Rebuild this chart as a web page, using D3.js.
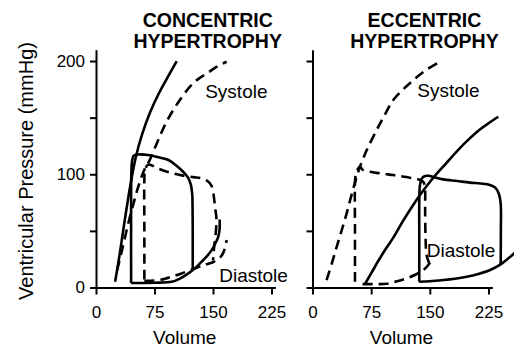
<!DOCTYPE html>
<html>
<head>
<meta charset="utf-8">
<script src="https://cdn.jsdelivr.net/npm/d3@7"></script>
<style>
  body { margin: 0; background: #fff; }
  text { font-family: Arial, "Liberation Sans", sans-serif; fill: #000; }
</style>
</head>
<body>
<div id="chart"></div>
<script>
// values, [volume, pressure]
var concentricEspvr = [[24.5,5],[30.5,30],[37,60],[44,90],[51,115],[59,135],[69.5,155],[81,172],[93,187],[103.5,200]];
var concentricLoop = [[45,4],[45,60],[45.3,100],[46.3,112],[48.5,116.5],[55,117.5],[67,117],[80,115],[93,112.6],[104,107],[112,102],[118,97],[121.5,91],[123.3,83],[123.8,70],[124,50],[124,30],[124,16]];
var concentricEdpvr = [[45,4],[75,4.2],[97,5],[108,8],[118.4,12.5],[127,17],[135.5,22.8],[142,27.5],[148.3,33],[153,39],[156.8,45],[158.5,52],[158.5,60]];
var normalEspvrA = [[27,15],[34,35],[41.4,56.7],[48,74],[54.2,89],[62,104],[67,110],[77.8,127],[88,143],[99,156.7],[110,168],[120.5,177.3],[131,184],[142,189],[155,195],[167.5,199.4]];
var normalLoopA = [[62,7],[62,50],[62,95],[63,104],[67,108.5],[80,105],[95,101.5],[110,99],[125,97.5],[135.5,96.4],[143,94],[148,90],[150.5,83],[152.6,71],[154.5,60],[153.5,48],[151.5,36],[150,24]];
var normalEdpvrA = [[62,6],[80,6.5],[92,8.5],[108,12],[129,17.5],[142,20.5],[150.4,22.5],[156,25],[161,28],[165,34],[167.5,42]];

var eccentricEspvr = [[67,3],[75,12.5],[85,24.5],[95,35.5],[103.3,44],[115,58],[126,70],[137.4,81.7],[147,90.5],[157,99],[170,109],[184.3,120],[197,129],[214,139.5],[226,145.5],[237.5,150.8]];
var eccentricLoop = [[136.5,5.1],[136.5,40],[136.6,80],[137.5,91],[140,96.5],[144,98.5],[148,98.7],[158,97],[167.2,95.5],[185,94],[201.4,92.6],[215,91.8],[227,90.5],[234,88],[238,83.2],[240.5,75],[240.8,50],[240.6,20.5]];
var eccentricEdpvr = [[136.5,5.1],[150,5.5],[167.2,6.6],[182,7.8],[197,9.5],[212,12],[227,15.5],[240.6,20.5],[250,25.5],[257.6,30.2],[264,35.5]];
var normalEspvrB = [[18,6.6],[25,22],[31,36],[37.5,51],[43.7,65.5],[50,82],[56.5,97.8],[60.7,106.7],[66,116],[71.3,124.3],[82,139],[92,152],[103.3,165.6],[116,175],[129,183.2],[145,192],[163,199.4]];
var normalLoopB = [[54.3,5],[54.3,50],[54.5,95],[56,102],[60.7,106.7],[64,104],[73.5,102.3],[90,100.5],[103.3,99.3],[120,97.5],[137.4,95],[142,93],[143.8,88],[144,70],[144.5,45],[146,28],[149,22]];
var normalEdpvrB = [[64,3],[80,3],[94.9,3.3],[108,5.5],[120.4,8.1],[132,11.5],[141.7,15.5],[147,19],[150.2,22]];

var xTicks = [0, 75, 150, 225];
var yTicks = [0, 50, 100, 150, 200];
var yLabels = [0, 100, 200];
var titles = [["CONCENTRIC", "HYPERTROPHY"], ["ECCENTRIC", "HYPERTROPHY"]];
var systoleAt = [[140, 167], [134, 168]];
var diastoleAt = [[158, 5], [146, 27]];

var width = 514, height = 348;

var svg = d3.select("#chart").append("svg")
  .attr("width", width)
  .attr("height", height);

var y = d3.scaleLinear().domain([0, 210]).range([287.5, 49.7]);
var xA = d3.scaleLinear().domain([0, 230]).range([96, 96 + 230 * 0.78]);
var xB = d3.scaleLinear().domain([0, 230]).range([312.5, 312.5 + 230 * 0.7822]);

function drawPanel(x, showLabels, curves, title, sys, dia) {
  var g = svg.append("g");

  var yAxis = d3.axisLeft(y)
    .tickValues(yTicks)
    .tickSize(6)
    .tickSizeOuter(0)
    .tickPadding(5)
    .tickFormat(function(d) { return showLabels && yLabels.indexOf(d) >= 0 ? d : ""; });

  var xAxis = d3.axisBottom(x)
    .tickValues(xTicks)
    .tickSize(7)
    .tickSizeOuter(0)
    .tickPadding(11);

  var ya = g.append("g").attr("transform", "translate(" + x(0) + ",0)").call(yAxis);
  var xa = g.append("g").attr("transform", "translate(0," + y(0) + ")").call(xAxis);

  [ya, xa].forEach(function(a) {
    a.select(".domain").attr("stroke", "#000").attr("stroke-width", 2);
    a.selectAll(".tick line").attr("stroke", "#000").attr("stroke-width", 2);
    a.selectAll(".tick text").attr("fill", "#000")
      .style("font-size", "17px")
      .style("font-family", "Arial, 'Liberation Sans', sans-serif");
  });

  var line = d3.line()
    .x(function(d) { return x(d[0]); })
    .y(function(d) { return y(d[1]); })
    .curve(d3.curveCatmullRom.alpha(0.5));

  curves.forEach(function(c) {
    g.append("path")
      .attr("d", line(c.data))
      .attr("fill", "none")
      .attr("stroke", "#000")
      .attr("stroke-width", 2.6)
      .attr("stroke-linejoin", "round")
      .attr("stroke-dasharray", c.dashed ? "10,6" : null);
  });

  var mid = (x(0) + x(225)) / 2;
  g.append("text")
    .attr("x", mid + 24)
    .attr("y", 27)
    .attr("text-anchor", "middle")
    .style("font-weight", "bold")
    .style("font-size", "19.5px")
    .text(title[0]);
  g.append("text")
    .attr("x", mid + 24)
    .attr("y", 48)
    .attr("text-anchor", "middle")
    .style("font-weight", "bold")
    .style("font-size", "19.5px")
    .text(title[1]);

  g.append("text")
    .attr("x", mid + 1)
    .attr("y", 344)
    .attr("text-anchor", "middle")
    .style("font-size", "19px")
    .text("Volume");

  g.append("text")
    .attr("x", x(sys[0]))
    .attr("y", y(sys[1]))
    .style("font-size", "19px")
    .text("Systole");
  g.append("text")
    .attr("x", x(dia[0]))
    .attr("y", y(dia[1]))
    .style("font-size", "19px")
    .text("Diastole");
}

drawPanel(xA, true, [
  { data: concentricEspvr, dashed: false },
  { data: concentricLoop, dashed: false },
  { data: concentricEdpvr, dashed: false },
  { data: normalEspvrA, dashed: true },
  { data: normalLoopA, dashed: true },
  { data: normalEdpvrA, dashed: true }
], titles[0], systoleAt[0], diastoleAt[0]);

drawPanel(xB, false, [
  { data: eccentricEspvr, dashed: false },
  { data: eccentricLoop, dashed: false },
  { data: eccentricEdpvr, dashed: false },
  { data: normalEspvrB, dashed: true },
  { data: normalLoopB, dashed: true },
  { data: normalEdpvrB, dashed: true }
], titles[1], systoleAt[1], diastoleAt[1]);

svg.append("text")
  .attr("transform", "translate(33,171) rotate(-90)")
  .attr("text-anchor", "middle")
  .style("font-size", "20px")
  .text("Ventricular Pressure (mmHg)");
</script>
</body>
</html>
